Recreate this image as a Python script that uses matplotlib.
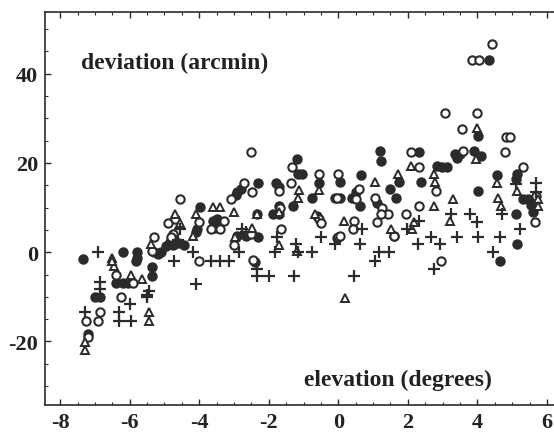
#!/usr/bin/env python3
"""Deviation vs elevation scatter, four marker sets, Mathematica-style frame."""
import numpy as np
import matplotlib

matplotlib.use("Agg")
import matplotlib.pyplot as plt  # noqa: E402
from matplotlib.ticker import MultipleLocator, FixedLocator  # noqa: E402

INK = "#2b2b2b"

# filled circles
filled_x = [-7.33, -7.0, -6.85, -7.2, -6.4, -6.2, -6.05, -6.2, -5.8, -5.8, -5.82,
            -5.35, -5.35, -5.3, -5.1, -5.2, -4.95, -4.75, -4.6, -4.45, -4.85,
            -3.98, -4.05, -4.1, -3.6, -3.45, -3.55, -2.9, -2.8, -2.9, -2.65, -2.3,
            -2.3, -2.35, -2.4, -1.8, -1.72, -1.72, -1.72, -1.88, -1.2, -1.17,
            -1.03, -1.29, -0.76, -0.56, -0.6, -0.1, 0.05, 0.05, -0.05, 0.4, 0.5,
            0.63, 0.66, 1.12, 1.19, 1.24, 1.5, 1.67, 1.75, 1.6, 2.33, 2.38, 2.84,
            2.99, 3.14, 3.35, 3.4, 3.5, 3.9, 4.03, 4.03, 4.1, 4.33, 4.56, 4.66,
            5.15, 5.12, 5.3, 5.45, 5.6, 5.1, 5.14, 5.6, 5.55, -3.5, -2.95]
filled_y = [-1.6, -10.1, -10.1, -18.4, -6.8, -6.8, -6.8, 0, 0, -1.2, -2,
            -3.4, -5.3, 0, 0, -0.3, 1.5, 1.7, 2, 1.6, 2.2,
            10.2, 5.1, 4.5, 7, 6.8, 5.5, 13.4, 14.2, 3.7, 3.7, 3.3,
            15.6, 8.5, -2.3, 15.6, 14.6, 10.4, 8.5, 8.5, 20.8, 17.5,
            17.5, 10.4, 12.1, 15.6, 8.0, 12.1, 12.1, 15.7, 3.2, 12.1, 13.5,
            10.4, 17.3, 11.1, 22.7, 20.4, 14.1, 12.1, 15.7, 3.7, 22.5, 15.7, 19.3,
            19, 19, 21.9, 21, 22, 22.7, 26, 13.7, 21.5, 43, 17.2, -1.9,
            17.5, 16.5, 12, 12, 11.5, 8.5, 1.8, 8.9, 10.5, 7.5, 12.8]

# open circles
open_x = [-7.25, -6.92, -6.85, -7.2, -6.4, -5.9, -6.26, -5.3, -4.9, -4.7, -4.75,
          -4.8, -4.55, -4.0, -4.0, -3.65, -3.4, -3.1, -3.0, -2.7, -2.5, -2.5,
          -2.47, -2.45, -1.7, -1.68, -1.65, -1.37, -1.32, -0.56, -0.55, -0.5,
          0.0, -0.05, 0.0, 0.05, 0.46, 0.43, 0.6, 0.5, 1.1, 1.06, 1.27, 1.42,
          1.22, 1.6, 1.95, 2.1, 2.33, 2.33, 2.81, 2.94, 3.06, 3.55, 3.6, 4.0,
          3.85, 4.06, 4.43, 4.82, 4.95, 4.79, 5.3, 5.66, 5.7, -3.3, -5.35]
open_y = [-15.4, -15.4, -13.5, -19, -5, -6.8, -10.1, 3.3, 6.6, 7.4, 4,
          3.3, 12, 6.8, -2, 5.1, 5.1, 12, 1.6, 15.6, 22.5, 4,
          13.4, -1.8, 13.7, 10.0, 5.1, 15.6, 19, 17.5, 7.4, 6.5,
          17.5, 12.1, 3.3, 3.7, 7, 5.1, 14.1, 12.0, 6.8, 12.2, 10, 8.5,
          8.5, 3.7, 8.5, 22.5, 19, 10.4, 13.7, -2, 31.1, 27.5, 22.7, 31.1,
          43, 43, 46.6, 25.8, 25.8, 22.5, 19, 6.8, 12.5, 7.0, 0.2]

# open triangles
tri_x = [-7.3, -7.3, -6.5, -6.45, -5.97, -5.45, -5.45, -5.4, -4.7, -4.55, -4.1,
         -4.18, -3.6, -3.4, -3.0, -2.96, -2.48, -2.33, -1.72, -1.72, -1.14,
         -1.17, -1.2, -0.56, -0.68, 0.2, 0.15, 1.06, 1.52, 1.72, 2.08, 2.18,
         2.13, 2.74, 2.74, 2.79, 3.3, 3.2, 3.98, 3.97, 4.56, 4.6, 4.67, 5.15,
         5.73, 5.75, -6.5, -5.65]
tri_y = [-20.2, -21.9, -1.2, -3, -5, -13.5, -15.4, 1.8, 8.5, 6.6, 8.5,
         3.7, 10.2, 10.2, 8.9, 3.3, 5.5, 8.5, 8.9, 1.6, 14,
         12.2, 0.3, 14, 8.5, -10.3, 7.0, 15.7, 5.3, 17.5, 19.3, 6.8,
         5.1, 10.4, 17.5, 15.7, 12, 7.0, 27.9, 20.8, 15.6, 12.1, 10.4, 13.7,
         11.9, 10.4, -2.0, -6.0]

# plus signs
plus_x = [-6.9, -7.3, -6.85, -6.85, -6.3, -6.3, -6.0, -5.95, -5.5, -5.45, -4.73,
          -4.55, -4.18, -4.08, -3.65, -3.4, -3.15, -2.76, -2.86, -2.33, -2.33,
          -1.98, -1.27, -1.77, -1.83, -1.22, -1.17, -0.5, -0.76, -0.1, 0.69,
          0.61, 0.46, 1.06, 1.17, 1.47, 1.98, 2.33, 2.3, 2.66, 2.92, 2.74, 3.25,
          3.4, 3.8, 4.0, 4.03, 4.7, 4.64, 4.46, 5.12, 5.22, 5.68, 5.7, -2.65,
          -5.5, -4.6]
plus_y = [0, -13.5, -6.6, -8.3, -13.5, -15.4, -11.6, -15.4, -10.1, -8.6, -2,
          5.1, 0, -7.2, -2, -2, -2, 5.1, 0, -3.7, -5.3,
          -5.3, -5.3, 3.3, 0, 1.8, 0, 3.3, 0, 1.8, 5.1,
          1.8, -5.3, -2, 0, 0, 5.1, 7, 1.8, 3.5, 1.8, -3.7, 8.5,
          3.3, 8.5, 6.8, 3.3, 8.5, 3.3, 0, 15.2, 5.1, 15.6, 13.4, 4.5,
          -9.5, 2.8]

x_ticks = [-8, -6, -4, -2, 0, 2, 4, 6]
y_ticks = [-20, 0, 20, 40]

plt.rcParams["font.family"] = ["Liberation Serif", "DejaVu Serif"]
plt.rcParams["font.weight"] = "bold"

fig = plt.figure(figsize=(5.54, 4.35), dpi=100)
ax = fig.add_axes([0.081, 0.067, 0.925, 0.903])

common = dict(linestyle="none", markersize=6.0, markeredgewidth=1.5)
ax.plot(filled_x, filled_y, marker="o", color=INK, mfc=INK, mec=INK, **common)
ax.plot(open_x, open_y, marker="o", mfc="white", mec=INK, **common)
ax.plot(tri_x, tri_y, marker="^", mfc="white", mec=INK, linestyle="none",
        markersize=5.5, markeredgewidth=1.4)
ax.plot(plus_x, plus_y, marker="+", mec=INK, linestyle="none",
        markersize=8, markeredgewidth=1.6)

ax.set_xlim(-8.44, 6.3)
ax.set_ylim(-34.2, 53.8)

ax.xaxis.set_major_locator(FixedLocator(x_ticks))
ax.yaxis.set_major_locator(FixedLocator(y_ticks))
ax.xaxis.set_minor_locator(MultipleLocator(0.5))
ax.yaxis.set_minor_locator(MultipleLocator(5))
ax.set_xticklabels([str(v) for v in x_ticks])
ax.set_yticklabels([str(v) for v in y_ticks])

ax.tick_params(which="both", direction="in", top=True, right=False,
               color=INK, labelsize=16, labelcolor="#222222")
ax.tick_params(which="major", length=4, width=1.0)
ax.tick_params(which="minor", length=2, width=0.8)
ax.tick_params(axis="x", pad=5)
ax.tick_params(axis="y", pad=5)

for side in ("left", "bottom", "top"):
    ax.spines[side].set_color(INK)
    ax.spines[side].set_linewidth(1.2)
ax.spines["right"].set_visible(False)

ax.text(-7.4, 42.6, "deviation (arcmin)", fontsize=17, fontweight="bold",
        color="#222222", va="center", ha="left")
ax.text(-0.98, -28.6, "elevation (degrees)", fontsize=17, fontweight="bold",
        color="#222222", va="center", ha="left")

fig.savefig("out.png", dpi=100)
